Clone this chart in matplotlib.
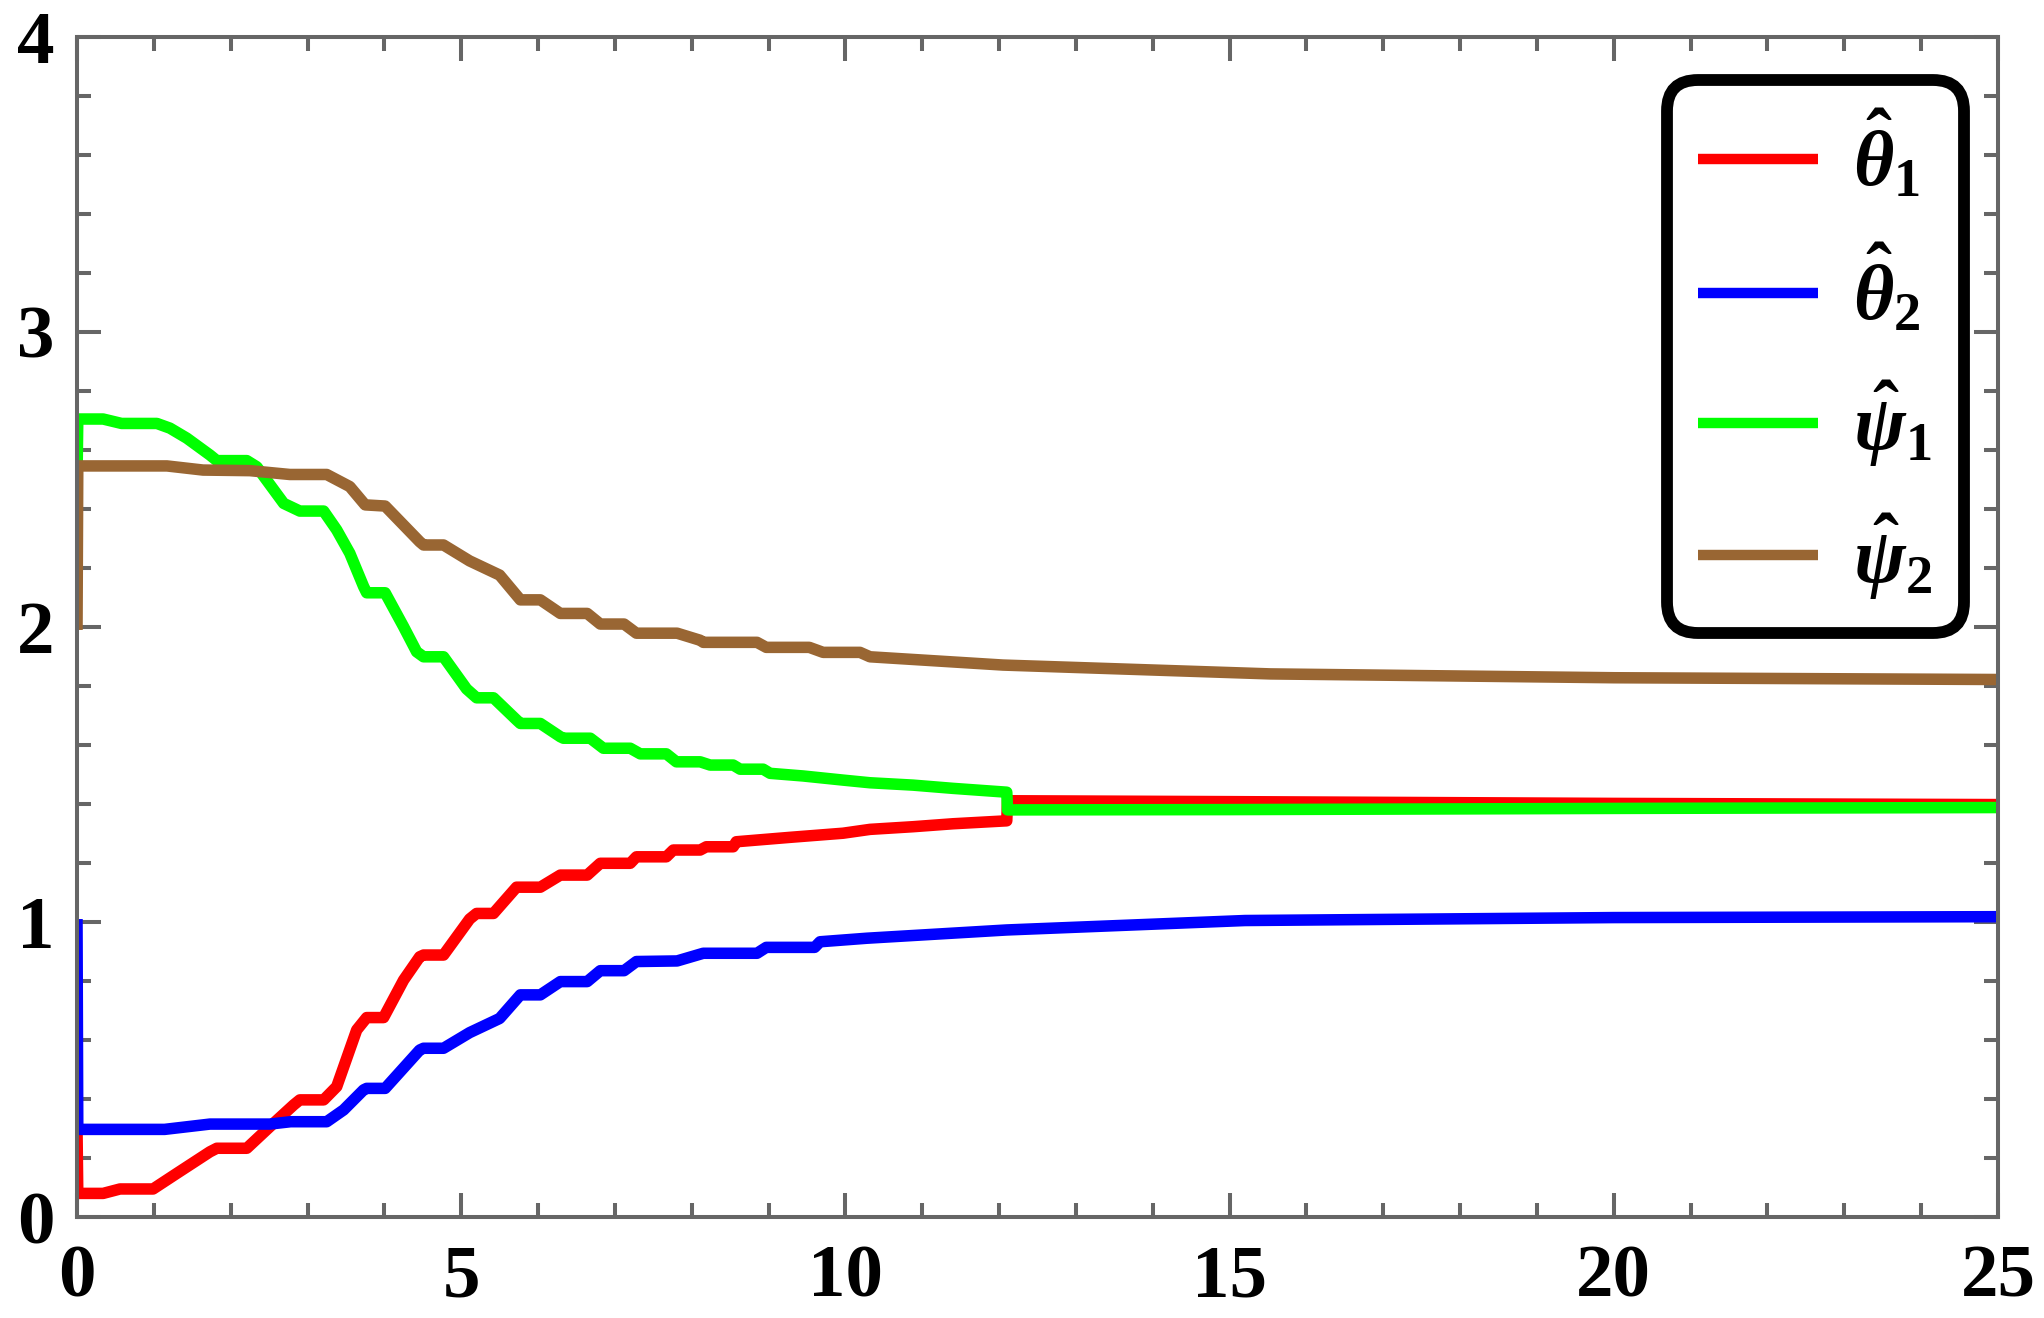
import numpy as np
import matplotlib.pyplot as plt
from matplotlib.ticker import MultipleLocator

plt.rcParams['font.family'] = 'Liberation Serif'
plt.rcParams['font.weight'] = 'bold'
plt.rcParams['mathtext.fontset'] = 'custom'
plt.rcParams['mathtext.it'] = 'Liberation Serif:italic:bold'
plt.rcParams['mathtext.rm'] = 'Liberation Serif:bold'
plt.rcParams['mathtext.bf'] = 'Liberation Serif:bold'

# theta_1 estimate
t_red = [0, 0.01, 0.34, 0.56, 0.99, 1.30, 1.73, 1.82, 2.21, 2.51, 2.82, 2.90, 3.21, 3.38, 3.64,
         3.77, 3.99, 4.25, 4.46, 4.51, 4.77, 5.11, 5.20, 5.42, 5.72, 6.03, 6.29, 6.64, 6.81, 7.20,
         7.28, 7.67, 7.76, 8.11, 8.19, 8.54, 8.58, 9.28, 9.97, 10.32, 10.88, 11.40, 12.10, 12.11,
         15.0, 20.0, 25.0]
red = [0.30, 0.08, 0.08, 0.095, 0.095, 0.148, 0.221, 0.233, 0.233, 0.306, 0.380, 0.397, 0.397, 0.442, 0.634,
       0.676, 0.676, 0.803, 0.882, 0.888, 0.888, 1.01, 1.029, 1.029, 1.118, 1.118, 1.159, 1.159, 1.199, 1.199,
       1.221, 1.221, 1.244, 1.244, 1.255, 1.255, 1.272, 1.287, 1.301, 1.314, 1.323, 1.333, 1.343, 1.411,
       1.408, 1.402, 1.398]

# theta_2 estimate
t_blue = [0, 0.01, 1.14, 1.73, 2.51, 2.78, 3.25, 3.47, 3.73, 3.77, 4.01, 4.46, 4.51, 4.77, 5.11,
          5.50, 5.77, 6.03, 6.29, 6.64, 6.81, 7.12, 7.28, 7.81, 8.15, 8.85, 8.97, 9.60, 9.67, 10.28,
          12.10, 15.2, 20.0, 25.0]
blue = [1.01, 0.297, 0.297, 0.315, 0.315, 0.323, 0.323, 0.363, 0.431, 0.436, 0.436, 0.566, 0.572, 0.572, 0.625,
        0.673, 0.753, 0.753, 0.798, 0.798, 0.835, 0.835, 0.866, 0.868, 0.894, 0.894, 0.914, 0.914, 0.933, 0.945,
        0.973, 1.005, 1.015, 1.018]

# psi_1 estimate
t_green = [0, 0.01, 0.34, 0.58, 1.04, 1.21, 1.43, 1.73, 1.82, 2.21, 2.34, 2.69, 2.90, 3.21, 3.38,
           3.55, 3.73, 3.77, 4.01, 4.25, 4.42, 4.51, 4.77, 5.07, 5.20, 5.42, 5.72, 5.77, 6.03, 6.29,
           6.33, 6.68, 6.85, 7.20, 7.33, 7.67, 7.80, 8.11, 8.24, 8.54, 8.63, 8.93, 9.02, 9.45, 9.97,
           10.32, 10.88, 11.40, 12.10, 12.11, 15.0, 20.0, 25.0]
green = [2.50, 2.705, 2.705, 2.69, 2.69, 2.674, 2.64, 2.583, 2.564, 2.564, 2.543, 2.419, 2.393, 2.393, 2.329,
         2.25, 2.137, 2.116, 2.116, 2.001, 1.916, 1.899, 1.899, 1.790, 1.760, 1.760, 1.685, 1.673, 1.673, 1.628,
         1.623, 1.623, 1.589, 1.589, 1.570, 1.570, 1.543, 1.543, 1.532, 1.532, 1.518, 1.518, 1.504, 1.495, 1.481,
         1.472, 1.464, 1.453, 1.440, 1.380, 1.381, 1.385, 1.388]

# psi_2 estimate
t_brown = [0, 0.01, 1.17, 1.64, 2.25, 2.77, 3.25, 3.55, 3.75, 4.01, 4.46, 4.51, 4.77, 5.11, 5.50,
           5.77, 6.03, 6.29, 6.64, 6.81, 7.12, 7.28, 7.81, 8.11, 8.15, 8.85, 8.97, 9.53, 9.71, 10.19,
           10.32, 12.05, 15.53, 20.0, 25.0]
brown = [1.99, 2.546, 2.546, 2.532, 2.530, 2.517, 2.517, 2.476, 2.414, 2.41, 2.289, 2.278, 2.278, 2.224, 2.176,
         2.092, 2.092, 2.046, 2.046, 2.010, 2.010, 1.979, 1.979, 1.955, 1.948, 1.948, 1.931, 1.931, 1.914, 1.914,
         1.899, 1.871, 1.841, 1.828, 1.822]

labels = [r'$\hat{\theta}_1$', r'$\hat{\theta}_2$', r'$\hat{\psi}_1$', r'$\hat{\psi}_2$']
colors = ['#FF0000', '#0000FF', '#00FF00', '#996633']

fig = plt.figure(figsize=(20.44, 13.18), dpi=100)
ax = fig.add_axes([77/2044, 1 - 1217/1318, (1998-77)/2044, (1217-37)/1318])

series = [(t_red, red), (t_blue, blue), (t_green, green), (t_brown, brown)]
for (t, v), c, lab in zip(series, colors, labels):
    ax.plot(t, v, color=c, lw=8.3, label=lab, solid_joinstyle='round', solid_capstyle='butt')

ax.set_xlim(0, 25)
ax.set_ylim(0, 4)
ax.xaxis.set_major_locator(MultipleLocator(5))
ax.xaxis.set_minor_locator(MultipleLocator(1))
ax.yaxis.set_major_locator(MultipleLocator(1))
ax.yaxis.set_minor_locator(MultipleLocator(0.2))

gray = '#666666'
for s in ax.spines.values():
    s.set_color(gray)
    s.set_linewidth(2.9)
ax.tick_params(which='both', direction='in', top=True, right=True, color=gray, width=2.9,
               labelsize=54, labelcolor='black')
ax.tick_params(which='major', length=17)
ax.tick_params(which='minor', length=10)
ax.tick_params(axis='y', which='major', pad=16)
ax.tick_params(axis='x', which='major', pad=20)
for lbl in ax.get_xticklabels() + ax.get_yticklabels():
    lbl.set_fontweight('bold')

leg = ax.legend(loc='upper right', bbox_to_anchor=(1964/2044, 1 - 80/1318),
                bbox_transform=fig.transFigure, borderaxespad=0, fontsize=56,
                handlelength=1.55, handletextpad=0.45, labelspacing=0.54,
                borderpad=0.4, fancybox=True, framealpha=1)
frame = leg.get_frame()
frame.set_edgecolor('black')
frame.set_linewidth(8.5)
frame.set_boxstyle('round', pad=0, rounding_size=0.4)
for line in leg.get_lines():
    line.set_linewidth(7.5)

fig.savefig('out.png', dpi=100)
